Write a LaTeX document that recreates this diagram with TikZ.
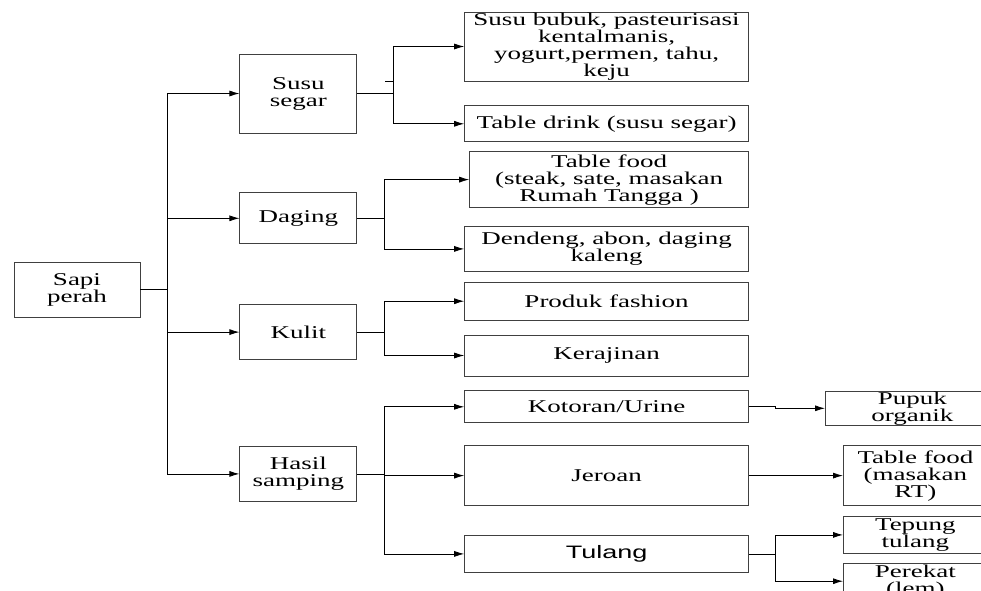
\documentclass[tikz,border=0pt]{standalone}
\usepackage{fontspec}
\usetikzlibrary{positioning,arrows.meta}

\newfontfamily\boxfont[FakeStretch=1.5]{Liberation Serif}
\newfontfamily\boxsans[FakeStretch=1.5]{Liberation Sans}

\begin{document}
\begin{tikzpicture}[x=1pt,y=-1pt,>={Latex[length=10pt,width=6pt]},line width=0.8pt,
    main box/.style={rectangle,draw=black!75,align=center,inner sep=0pt,font=\boxfont\fontsize{18}{17}\selectfont},
    level one/.style={main box,minimum width=117pt},
    level two/.style={main box,minimum width=284pt}]

                \useasboundingbox (0,0) rectangle (981,590);
                \clip (0,0) rectangle (981,590);

                \node[main box, minimum width=126pt, minimum height=55pt] (1) at (77,289.5) {Sapi\\perah};

                \node[level one, minimum height=79pt] (2) [right=99pt of 1, yshift=196pt] {Susu\\segar};
                \node[level one, minimum height=51pt] (3) [below=59pt of 2] {Daging};
                \node[level one, minimum height=55pt] (4) [below=60pt of 3] {Kulit};
                \node[level one, minimum height=55pt] (5) [below=86pt of 4] {Hasil\\samping};

                \node[level two, minimum height=69pt] (6) [right=107pt of 2, yshift=47pt] {Susu bubuk, pasteurisasi\\kentalmanis,\\yogurt,permen, tahu,\\keju};
                \node[level two, minimum height=36pt] (7) [below=24pt of 6] {Table drink (susu segar)};
                \node[level two, minimum width=279pt, minimum height=56pt] (8) [below=9pt of 7, xshift=2.5pt] {Table food\\(steak, sate, masakan\\Rumah Tangga )};
                \node[level two, minimum height=45pt] (9) [below=18pt of 8, xshift=-2.5pt] {Dendeng, abon, daging\\kaleng};
                \node[level two, minimum height=38pt] (10) [below=10pt of 9] {Produk fashion};
                \node[level two, minimum height=41pt] (11) [below=14pt of 10] {Kerajinan};
                \node[level two, minimum height=32pt] (12) [below=14pt of 11] {Kotoran/Urine};
                \node[level two, minimum height=60pt] (13) [below=22pt of 12] {Jeroan};
                \node[level two, minimum height=37pt, font=\boxsans\fontsize{18}{17}\selectfont] (14) [below=29pt of 13] {Tulang};

                \node[main box, minimum width=174pt, minimum height=29pt] (15) [right=76pt of 12, yshift=-1.5pt] {Pupuk\\organik};
                \node[main box, minimum width=144pt, minimum height=60pt] (16) [right=94pt of 13] {Table food\\(masakan\\RT)};
                \node[main box, minimum width=144pt, minimum height=37pt] (17) [below=10pt of 16] {Tepung\\tulang};
                \node[main box, minimum width=144pt, minimum height=36pt] (18) [below=9pt of 17] {Perekat\\(lem)};

                % \path[every node/.style={font=\small}]

                \draw[line width=1.4pt] (1.east) -- ++(27,0);
                \draw[->] (1.east) -- ++(27,0) |- (2.west);
                \draw[->] (1.east) -- ++(27,0) |- (3.west);
                \draw[->] (1.east) -- ++(27,0) |- (4.west);
                \draw[->] (1.east) -- ++(27,0) |- (5.west);

                \draw[->] (2.east) -- ++(36,0) |- (6.west);
                \draw[->] (2.east) -- ++(36,0) |- (7.west);
                \draw ([xshift=28pt,yshift=12.5pt]2.east) -- ++(8,0);

                \draw[->] (3.east) -- ++(27,0) |- (8.west);
                \draw[->] (3.east) -- ++(27,0) |- (9.west);

                \draw[->] (4.east) -- ++(27,0) |- (10.west);
                \draw[->] (4.east) -- ++(27,0) |- (11.west);

                \draw[->] (5.east) -- ++(27,0) |- (12.west);
                \draw[->] (5.east) -- ++(27,0) |- (13.west);
                \draw[->] (5.east) -- ++(27,0) |- (14.west);

                \draw[->] (12.east) -- ++(26,0) |- (15.west);
                \draw[->] (13.east) -- ++(26,0) |- (16.west);
                \draw[->] (14.east) -- ++(26,0) |- (17.west);
                \draw[->] (14.east) -- ++(26,0) |- (18.west);

                ;
\end{tikzpicture}
\end{document}
